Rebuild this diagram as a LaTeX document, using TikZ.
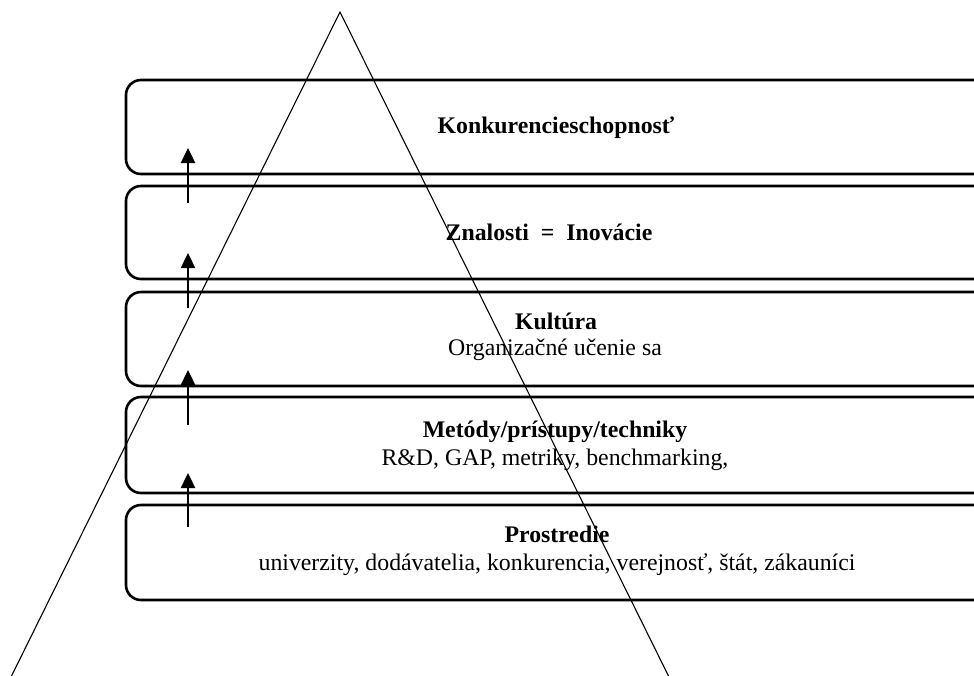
\documentclass[tikz,border=0pt]{standalone}
\usepackage{fontspec}
\setmainfont{Liberation Serif}
\usetikzlibrary{arrows.meta}
\begin{document}
\begin{tikzpicture}[x=1pt,y=-1pt,
  layer/.style={draw, line width=2.6pt, rounded corners=15pt},
  title/.style={font=\fontsize{23.8}{28}\selectfont\bfseries, anchor=base, inner sep=0pt},
  sub/.style={font=\fontsize{23.8}{28}\selectfont, anchor=base, inner sep=0pt},
  rise/.style={line width=2.4pt, -{Triangle[length=15pt,width=14pt]}},
  pyramid/.style={line width=1.1pt, line join=miter}]
\useasboundingbox (0,0) rectangle (974,675);
\begin{scope}
\clip (0,0) rectangle (974,675);
% stacked layers, the frames run on past the right edge
\draw[layer] (126,80)  rectangle (990,174);
\draw[layer] (126,186) rectangle (990,279);
\draw[layer] (126,292) rectangle (990,386);
\draw[layer] (126,397) rectangle (990,493);
\draw[layer] (126,505) rectangle (990,600);
\end{scope}

% layer labels
\node[title] (t1) at (556,133) {Konkurencieschopnosť};
\node[title] (t2) at (549,240) {Znalosti\ \ =\ \ Inovácie};
\node[title] (t3) at (556,329) {Kultúra};
\node[sub]   (s3) at (555,355) {Organizačné učenie sa};
\node[title] (t4) at (555,437) {Metódy/prístupy/techniky};
\node[sub]   (s4) at (555,465) {R\&D, GAP, metriky, benchmarking,};
\node[title] (t5) at (557,542) {Prostredie};
\node[sub]   (s5) at (557,570) {univerzity, dodávatelia, konkurencia, verejnosť, štát, zákauníci};

% upward arrows between layers
\coordinate (a1s) at (188,203); \coordinate (a1e) at (188,148);
\coordinate (a2s) at (188,308); \coordinate (a2e) at (188,253);
\coordinate (a3s) at (188,425); \coordinate (a3e) at (188,370);
\coordinate (a4s) at (188,527); \coordinate (a4e) at (188,473);
\draw[rise] (a1s) -- (a1e);
\draw[rise] (a2s) -- (a2e);
\draw[rise] (a3s) -- (a3e);
\draw[rise] (a4s) -- (a4e);

% open pyramid drawn over everything
\coordinate (pl) at (11,677);
\coordinate (pt) at (340,12);
\coordinate (pr) at (669,677);
\begin{scope}
\clip (0,0) rectangle (974,675);
\draw[pyramid] (pl) -- (pt) -- (pr);
\end{scope}
\end{tikzpicture}
\end{document}
